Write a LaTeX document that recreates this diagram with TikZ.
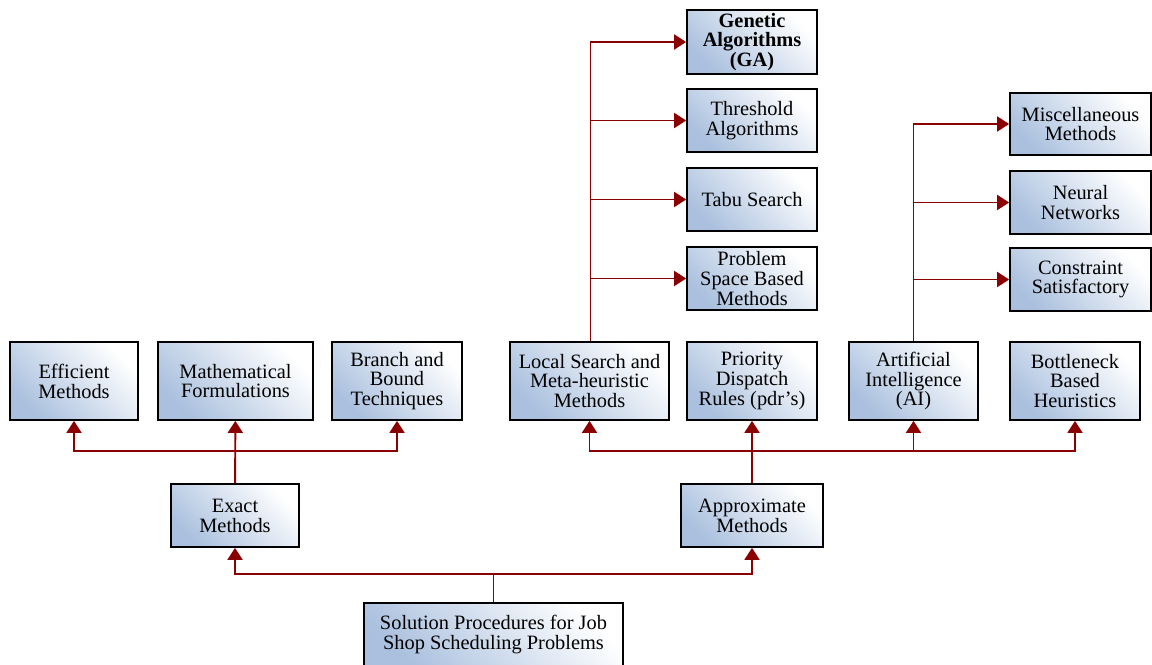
\documentclass[tikz,border=0pt]{standalone}
\usepackage{fontspec}
\setmainfont{Liberation Serif}
\usetikzlibrary{arrows.meta, shadows, calc}
\definecolor{boxblue}{RGB}{170,192,222}
\definecolor{linkred}{RGB}{139,0,0}

\begin{document}
\begin{tikzpicture}[
    method/.style={rectangle, draw=black, line width=1pt, top color=white, bottom color=boxblue, shading angle=-45, minimum width=2.6cm, minimum height=1.26cm, align=center, text centered, inner sep=1pt, font=\fontsize{11.6}{11.3}\selectfont, drop shadow={shadow xshift=0.8pt, shadow yshift=-0.8pt, opacity=0.45}},
    tall/.style={minimum height=1.56cm},
    link/.style={draw=linkred, line width=1.1pt, -{Triangle[length=6.8pt, width=8.5pt]}},
]
\useasboundingbox (0,0) rectangle (23.04,-13.28);

% Nodes
\node[method, tall, minimum width=2.56cm] (eff) at (1.48,-7.62) {Efficient\\Methods};
\node[method, tall, minimum width=3.1cm] (math) at (4.71,-7.62) {Mathematical\\Formulations};
\node[method, tall] (bnb) at (7.94,-7.62) {Branch and\\Bound\\Techniques};
\node[method, tall, minimum width=3.18cm] (local) at (11.79,-7.62) {Local Search and\\Meta-heuristic\\Methods};
\node[method, tall] (pdr) at (15.04,-7.62) {Priority\\Dispatch\\Rules (pdr’s)};
\node[method, tall, minimum width=2.58cm] (ai) at (18.27,-7.62) {Artificial\\Intelligence\\(AI)};
\node[method, tall] (bot) at (21.5,-7.62) {Bottleneck\\Based\\Heuristics};
\node[method, minimum width=2.56cm] (exact) at (4.7,-10.31) {Exact\\Methods};
\node[method, minimum width=2.84cm] (approx) at (15.04,-10.31) {Approximate\\Methods};
\node[method, minimum width=5.18cm] (root) at (9.87,-12.69) {Solution Procedures for Job\\Shop Scheduling Problems};
\node[method, minimum height=1.28cm] (ga) at (15.04,-0.84) {\textbf{Genetic}\\\textbf{Algorithms}\\\textbf{(GA)}};
\node[method] (thr) at (15.04,-2.41) {Threshold\\Algorithms};
\node[method] (tabu) at (15.04,-3.99) {Tabu Search};
\node[method] (psb) at (15.04,-5.57) {Problem\\Space Based\\Methods};
\node[method, minimum width=2.82cm, minimum height=1.24cm] (misc) at (21.61,-2.48) {Miscellaneous\\Methods};
\node[method, minimum width=2.82cm] (nn) at (21.61,-4.05) {Neural\\Networks};
\node[method, minimum width=2.82cm] (cs) at (21.61,-5.59) {Constraint\\Satisfactory};

% Connections
\draw[link] (root.north) -- ++(0,0.56) -| (exact.south);
\draw[link] (root.north) ++(0,0.56) -| (approx.south);

\draw[link] (exact) -- (math);
\draw[link] (exact.north) ++(0,0.64) -| (eff.south);
\draw[link] (exact.north) ++(0,0.64) -| (bnb.south);

\draw[link] (approx) -- (pdr);
\draw[link] (approx.north) ++(0,0.64) -| (local.south);
\draw[link] (approx.north) ++(0,0.64) -| (ai.south);
\draw[link] (approx.north) ++(0,0.64) -| (bot.south);

\draw[link] ([xshift=0.02cm]local.north) |- (ga.west);
\draw[link] ([xshift=0.02cm]local.north) |- (thr.west);
\draw[link] ([xshift=0.02cm]local.north) |- (tabu.west);
\draw[link] ([xshift=0.02cm]local.north) |- (psb.west);

\draw[link] (ai.north) |- (misc.west);
\draw[link] (ai.north) |- (nn.west);
\draw[link] (ai.north) |- (cs.west);

\end{tikzpicture}
\end{document}
